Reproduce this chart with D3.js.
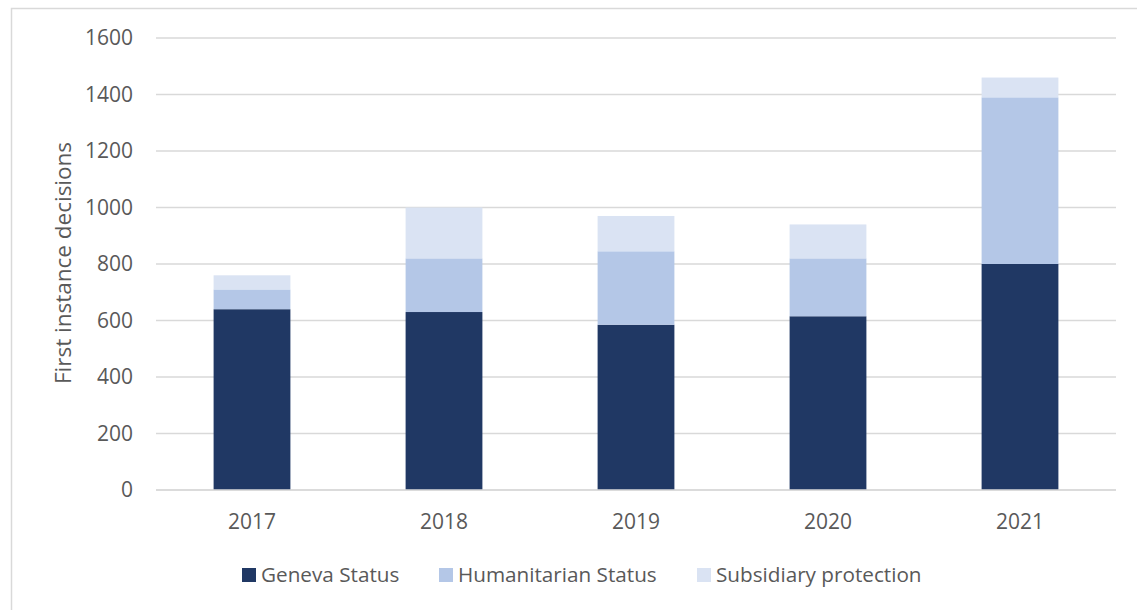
<!DOCTYPE html>
<html><head><meta charset="utf-8">
<script src="https://cdn.jsdelivr.net/npm/d3@7"></script>
<style>
html,body{margin:0;padding:0;background:#fff;}
text{font-family:"Open Sans","Noto Sans",sans-serif;fill:#595959;}
</style></head>
<body>
<svg id="chart" width="1137" height="610"></svg>
<script>
const years = ["2017","2018","2019","2020","2021"];
const seriesNames = ["Geneva Status","Humanitarian Status","Subsidiary protection"];
const geneva = [640, 630, 585, 615, 800];
const humanitarian = [70, 190, 260, 205, 590];
const subsidiary = [50, 180, 125, 120, 70];
const yTicks = [0,200,400,600,800,1000,1200,1400,1600];
const colors = ["#203864","#B4C7E7","#DAE3F3"];

(function(){
const svg = d3.select("#chart");
svg.append("rect").attr("x",11.5).attr("y",8.5).attr("width",1140).attr("height",620)
  .attr("fill","none").attr("stroke","#d9d9d9").attr("stroke-width",1.5);

const pL=156, pR=1116, pT=38, pB=490;
const x = d3.scaleBand().domain(years).range([pL,pR]).paddingInner(0.6).paddingOuter(0.3);
const y = d3.scaleLinear().domain([0,1600]).range([pB,pT]);

svg.append("g").selectAll("line").data(yTicks).join("line")
  .attr("x1",pL).attr("x2",pR).attr("y1",d=>y(d)).attr("y2",d=>y(d))
  .attr("stroke","#d9d9d9").attr("stroke-width",1.3);

const data = years.map((yr,i)=>({year:yr,"Geneva Status":geneva[i],"Humanitarian Status":humanitarian[i],"Subsidiary protection":subsidiary[i]}));
const stack = d3.stack().keys(seriesNames)(data);

svg.append("g").selectAll("g").data(stack).join("g")
  .attr("fill",(d,i)=>colors[i])
  .selectAll("rect").data(d=>d).join("rect")
  .attr("x",d=>x(d.data.year)).attr("width",x.bandwidth())
  .attr("y",d=>y(d[1])).attr("height",d=>y(d[0])-y(d[1]));

const yAxis = d3.axisLeft(y).tickValues(yTicks).tickFormat(d3.format("d")).tickSize(0).tickPadding(23);
const yg = svg.append("g").attr("transform",`translate(${pL},0)`).call(yAxis);
yg.select(".domain").remove();
yg.selectAll("text").style("font-size","21px").attr("fill","#595959");

const xAxis = d3.axisBottom(x).tickSize(0).tickPadding(24);
const xg = svg.append("g").attr("transform",`translate(0,${pB})`).call(xAxis);
xg.select(".domain").remove();
xg.selectAll("text").style("font-size","21px").attr("fill","#595959");
xg.attr("font-family",null); yg.attr("font-family",null);
svg.append("line").attr("x1",pL).attr("x2",pR).attr("y1",pB).attr("y2",pB)
  .attr("stroke","#d9d9d9").attr("stroke-width",1.3);

svg.append("text").attr("transform","translate(71,263) rotate(-90)")
  .attr("text-anchor","middle").style("font-size","22.5px").text("First instance decisions");

const legX = [242, 439, 697];
const lg = svg.append("g").selectAll("g").data(seriesNames).join("g")
  .attr("transform",(d,i)=>`translate(${legX[i]},568)`);
lg.append("rect").attr("width",14).attr("height",14).attr("fill",(d,i)=>colors[i]);
lg.append("text").attr("x",19).attr("y",14).style("font-size","20.7px").text(d=>d);
})();
</script>
</body></html>
